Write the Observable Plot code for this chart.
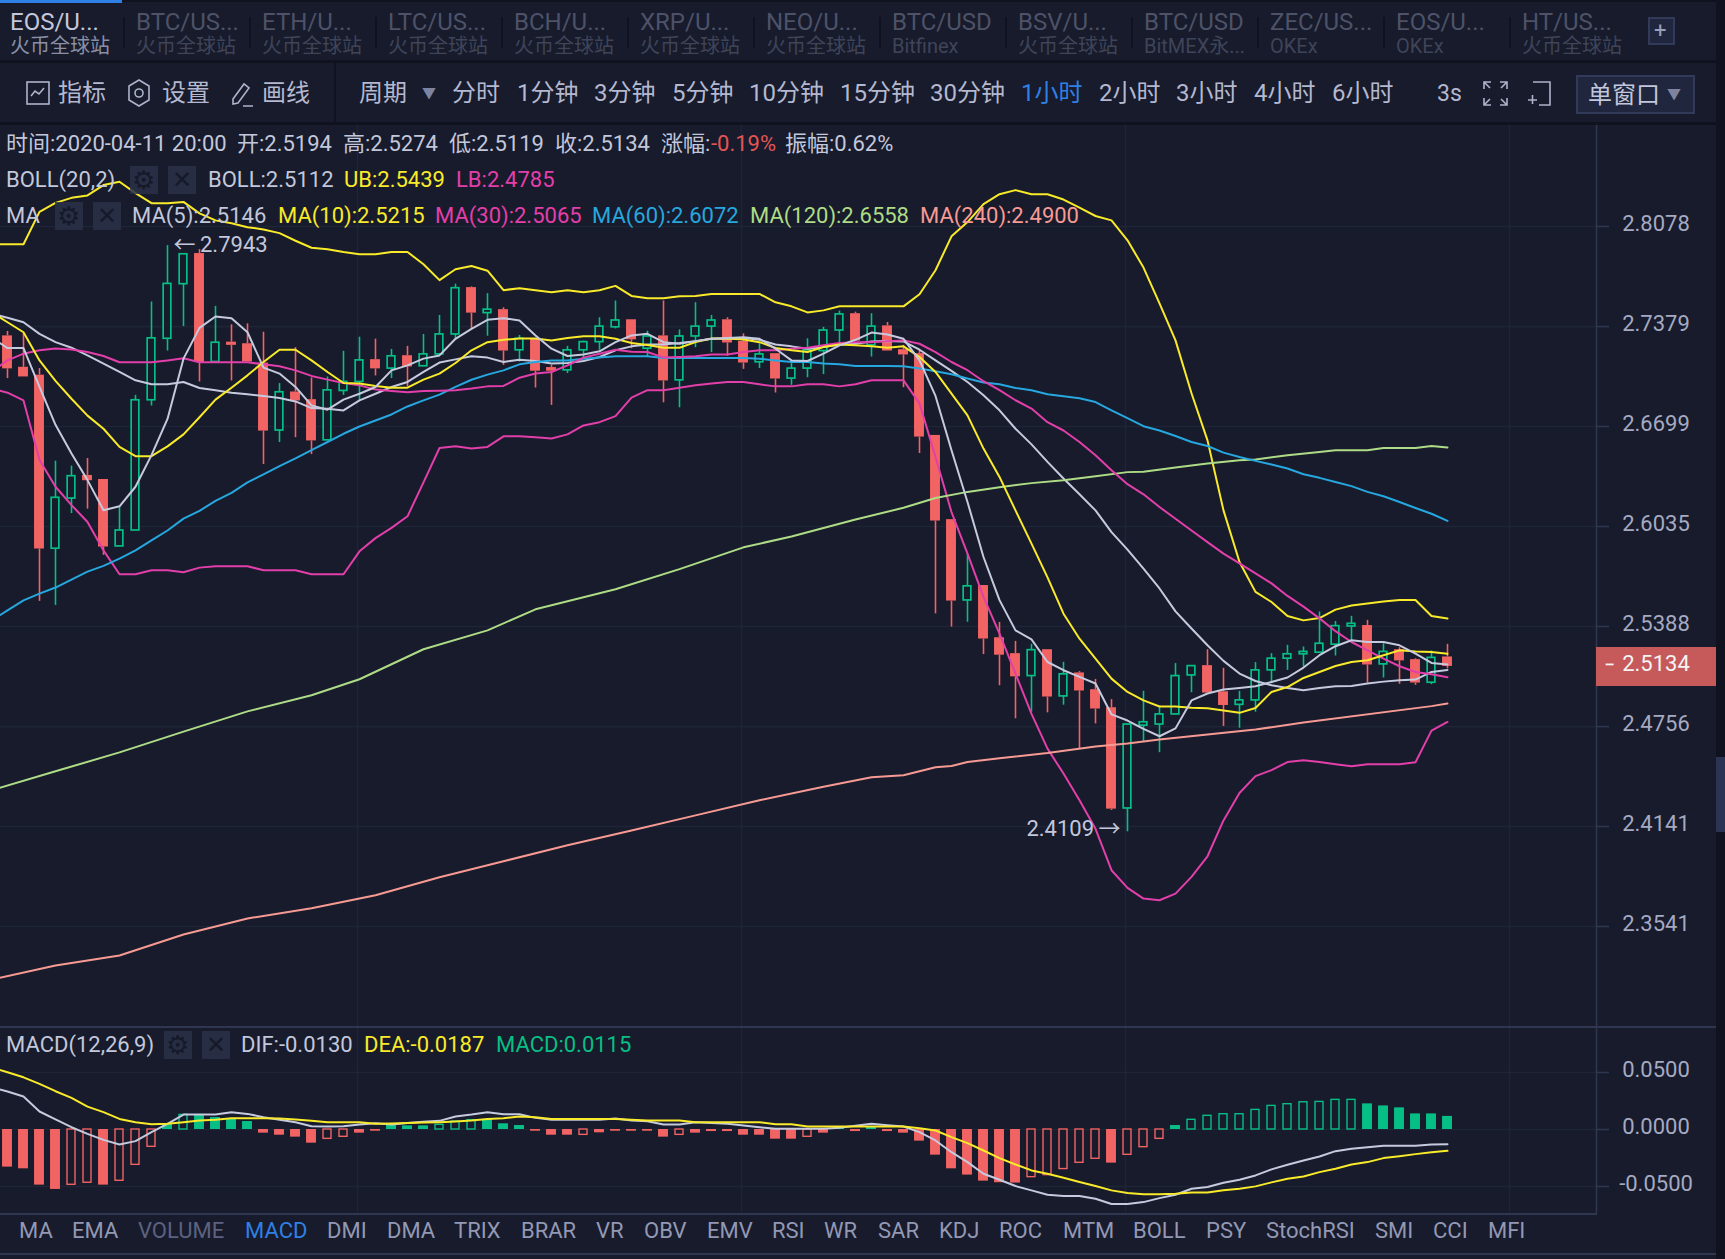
<!DOCTYPE html>
<html>
<head>
<meta charset="utf-8">
<script src="https://cdn.jsdelivr.net/npm/d3@7"></script>
<script src="https://cdn.jsdelivr.net/npm/@observablehq/plot@0.6"></script>
<style>
  html, body { margin: 0; padding: 0; background: #171b2b; overflow: hidden; }
  #page { position: relative; width: 1725px; height: 1259px; overflow: hidden; background: #171b2b;
          font-family: Roboto, "Noto Sans CJK SC", sans-serif; }
  .pane { position: absolute; left: 0; }
  .lbl { position: absolute; white-space: nowrap; transform: translateY(-50%); line-height: 1; }
  .bar { position: absolute; }
</style>
</head>
<body>
<div id="page"></div>
<script>
// ---- candles, index 0..90, one per hour
const opens = [
  2.7315,2.7100,2.7046,2.5890,2.6219,2.6372,2.6345,2.5905,2.6009,2.6876,
  2.7295,2.7673,2.7887,2.7136,2.7272,2.7261,2.7129,2.6672,2.6932,2.6880,
  2.6606,2.6939,2.7000,2.7152,2.7091,2.7179,2.7107,2.7188,2.7325,2.7649,
  2.7472,2.7496,2.7216,2.7295,2.7098,2.7079,2.7216,2.7272,2.7374,2.7426,
  2.7227,2.7315,2.7011,2.7311,2.7379,2.7426,2.7277,2.7134,2.7193,2.7023,
  2.7091,2.7211,2.7352,2.7468,2.7250,2.7384,2.7220,2.7193,2.6639,2.6080,
  2.5555,2.5651,2.5316,2.5215,2.5073,2.5240,2.4945,2.5093,2.4987,2.4874,
  2.4251,2.4762,2.4769,2.4832,2.5077,2.5139,2.4974,2.4892,2.4920,2.5109,
  2.5183,2.5211,2.5221,2.5272,2.5388,2.5394,2.5147,2.5240,2.5177,2.5031,
  2.5194];
const highs = [
  2.7345,2.7329,2.7091,2.6467,2.6434,2.6485,2.6345,2.6164,2.6909,2.7549,
  2.7943,2.7882,2.7915,2.7519,2.7391,2.7398,2.7340,2.6989,2.7234,2.7027,
  2.7034,2.7209,2.7306,2.7293,2.7222,2.7243,2.7325,2.7456,2.7673,2.7654,
  2.7607,2.7509,2.7318,2.7295,2.7113,2.7243,2.7279,2.7440,2.7556,2.7426,
  2.7347,2.7556,2.7356,2.7544,2.7456,2.7440,2.7329,2.7261,2.7193,2.7125,
  2.7295,2.7374,2.7486,2.7479,2.7468,2.7407,2.7250,2.7220,2.6639,2.6080,
  2.5854,2.5651,2.5414,2.5293,2.5274,2.5240,2.5160,2.5101,2.5052,2.4925,
  2.4769,2.4977,2.4883,2.5152,2.5136,2.5240,2.5122,2.4977,2.5158,2.5215,
  2.5268,2.5257,2.5481,2.5420,2.5453,2.5427,2.5278,2.5253,2.5183,2.5232,
  2.5274];
const lows = [
  2.7023,2.7034,2.5549,2.5523,2.6120,2.6149,2.5847,2.5905,2.6009,2.6837,
  2.7211,2.7379,2.7000,2.7136,2.7007,2.7136,2.6445,2.6591,2.6624,2.6511,
  2.6606,2.6909,2.6875,2.7041,2.7023,2.6966,2.7107,2.7182,2.7295,2.7356,
  2.7313,2.7113,2.7136,2.6959,2.6841,2.7057,2.7159,2.7216,2.7363,2.7227,
  2.7166,2.6859,2.6825,2.7234,2.7200,2.7175,2.7086,2.7091,2.6925,2.6977,
  2.7029,2.7050,2.7243,2.7279,2.7170,2.7211,2.6961,2.6518,2.5469,2.5384,
  2.5415,2.5209,2.5012,2.4805,2.4847,2.4842,2.4890,2.4619,2.4773,2.4239,
  2.4109,2.4664,2.4594,2.4832,2.4968,2.4966,2.4757,2.4746,2.4846,2.5025,
  2.5109,2.5131,2.5221,2.5200,2.5299,2.5029,2.5061,2.5021,2.5015,2.5019,
  2.5119];
const closes = [
  2.7089,2.7034,2.5888,2.6224,2.6367,2.6337,2.5901,2.6009,2.6876,2.7298,
  2.7675,2.7882,2.7132,2.7268,2.7250,2.7136,2.6668,2.6930,2.6871,2.6602,
  2.6943,2.7000,2.7147,2.7089,2.7175,2.7102,2.7188,2.7325,2.7645,2.7472,
  2.7496,2.7211,2.7295,2.7073,2.7073,2.7216,2.7272,2.7379,2.7421,2.7288,
  2.7311,2.7007,2.7311,2.7379,2.7421,2.7266,2.7129,2.7188,2.7020,2.7091,
  2.7216,2.7352,2.7463,2.7279,2.7379,2.7211,2.7184,2.6628,2.6071,2.5551,
  2.5646,2.5308,2.5205,2.5068,2.5237,2.4941,2.5084,2.4979,2.4866,2.4247,
  2.4769,2.4783,2.4832,2.5073,2.5136,2.4966,2.4888,2.4920,2.5109,2.5183,
  2.5211,2.5226,2.5278,2.5390,2.5405,2.5143,2.5226,2.5169,2.5029,2.5188,
  2.5134];

// ---- overlay lines, index -1..90 (first value sits just off the left edge)
const ub = [2.7952,
  2.7952,2.7952,2.8181,2.8245,2.8281,2.8298,2.8372,2.8396,2.8315,2.8243,
  2.8243,2.8252,2.8171,2.8121,2.8100,2.8073,2.8057,2.8031,2.7977,2.7928,
  2.7917,2.7898,2.7882,2.7882,2.7898,2.7898,2.7812,2.7701,2.7777,2.7800,
  2.7767,2.7631,2.7645,2.7631,2.7617,2.7631,2.7617,2.7631,2.7661,2.7591,
  2.7575,2.7575,2.7589,2.7591,2.7605,2.7605,2.7605,2.7605,2.7547,2.7519,
  2.7477,2.7491,2.7519,2.7519,2.7519,2.7519,2.7519,2.7603,2.7770,2.8008,
  2.8109,2.8236,2.8307,2.8336,2.8307,2.8307,2.8269,2.8212,2.8152,2.8121,
  2.7980,2.7789,2.7540,2.7284,2.6923,2.6606,2.6141,2.5804,2.5610,2.5545,
  2.5455,2.5427,2.5442,2.5496,2.5522,2.5535,2.5548,2.5558,2.5558,2.5455,
  2.5439];
const boll = [2.7468,
  2.7440,2.7409,2.7329,2.7272,2.7234,2.7181,2.7125,2.7068,2.7011,2.6984,
  2.6984,2.7000,2.6959,2.6943,2.6927,2.6916,2.6905,2.6891,2.6868,2.6823,
  2.6818,2.6807,2.6875,2.6920,2.6966,2.7000,2.7068,2.7132,2.7154,2.7175,
  2.7166,2.7136,2.7152,2.7143,2.7125,2.7129,2.7143,2.7170,2.7216,2.7243,
  2.7256,2.7256,2.7266,2.7279,2.7295,2.7295,2.7300,2.7288,2.7256,2.7243,
  2.7227,2.7238,2.7256,2.7261,2.7277,2.7279,2.7277,2.7220,2.7147,2.7075,
  2.7000,2.6910,2.6808,2.6684,2.6579,2.6462,2.6352,2.6247,2.6141,2.5998,
  2.5884,2.5761,2.5632,2.5485,2.5375,2.5268,2.5169,2.5089,2.5042,2.5015,
  2.4998,2.4984,2.4998,2.5009,2.5011,2.5026,2.5038,2.5047,2.5051,2.5099,
  2.5112];
const lb = [2.6955,
  2.6927,2.6875,2.6475,2.6297,2.6176,2.6065,2.5879,2.5724,2.5724,2.5750,
  2.5750,2.5737,2.5767,2.5776,2.5776,2.5776,2.5750,2.5750,2.5750,2.5724,
  2.5724,2.5724,2.5873,2.5959,2.6026,2.6102,2.6326,2.6555,2.6566,2.6551,
  2.6562,2.6633,2.6633,2.6626,2.6619,2.6646,2.6706,2.6728,2.6769,2.6894,
  2.6944,2.6944,2.6961,2.6977,2.6989,2.7000,2.7000,2.6984,2.6970,2.6970,
  2.6984,2.6984,2.6970,2.6984,2.7011,2.7011,2.7011,2.6855,2.6495,2.6130,
  2.5858,2.5578,2.5342,2.5089,2.4836,2.4619,2.4465,2.4301,2.4127,2.3877,
  2.3771,2.3707,2.3697,2.3737,2.3837,2.3961,2.4178,2.4346,2.4449,2.4486,
  2.4536,2.4547,2.4536,2.4522,2.4510,2.4522,2.4522,2.4522,2.4535,2.4731,
  2.4785];
const ma5 = [2.7304,
  2.7231,2.7231,2.6966,2.6710,2.6518,2.6341,2.6142,2.6168,2.6297,2.6507,
  2.6750,2.7159,2.7370,2.7449,2.7437,2.7340,2.7098,2.7057,2.6966,2.6841,
  2.6812,2.6880,2.6920,2.6966,2.7079,2.7113,2.7159,2.7181,2.7295,2.7363,
  2.7426,2.7437,2.7421,2.7318,2.7227,2.7177,2.7188,2.7209,2.7272,2.7318,
  2.7329,2.7272,2.7261,2.7279,2.7295,2.7300,2.7306,2.7295,2.7227,2.7147,
  2.7143,2.7193,2.7250,2.7288,2.7338,2.7325,2.7295,2.7147,2.6905,2.6540,
  2.6196,2.5836,2.5557,2.5363,2.5306,2.5162,2.5110,2.5068,2.5026,2.4832,
  2.4794,2.4742,2.4696,2.4745,2.4920,2.4963,2.4988,2.4998,2.5009,2.5036,
  2.5064,2.5127,2.5205,2.5262,2.5300,2.5289,2.5289,2.5268,2.5215,2.5156,
  2.5146];
const ma10 = [2.7479,
  2.7409,2.7340,2.7147,2.7007,2.6886,2.6772,2.6684,2.6562,2.6500,2.6500,
  2.6566,2.6646,2.6761,2.6880,2.6961,2.7045,2.7136,2.7220,2.7220,2.7147,
  2.7068,2.6993,2.6989,2.6973,2.6961,2.6961,2.7016,2.7057,2.7129,2.7216,
  2.7272,2.7288,2.7297,2.7297,2.7284,2.7300,2.7313,2.7313,2.7295,2.7266,
  2.7252,2.7234,2.7234,2.7272,2.7297,2.7297,2.7290,2.7272,2.7232,2.7216,
  2.7204,2.7238,2.7256,2.7250,2.7243,2.7234,2.7243,2.7170,2.7068,2.6921,
  2.6774,2.6551,2.6362,2.6141,2.5923,2.5704,2.5470,2.5310,2.5184,2.5057,
  2.4973,2.4920,2.4882,2.4882,2.4874,2.4870,2.4857,2.4842,2.4872,2.4973,
  2.5004,2.5061,2.5099,2.5137,2.5162,2.5173,2.5205,2.5236,2.5228,2.5226,
  2.5215];
const ma30 = [2.7068,
  2.7147,2.7193,2.7216,2.7229,2.7222,2.7204,2.7177,2.7134,2.7134,2.7134,
  2.7147,2.7161,2.7134,2.7134,2.7134,2.7134,2.7120,2.7107,2.7079,2.7041,
  2.7016,2.6993,2.6977,2.6948,2.6939,2.6930,2.6939,2.6941,2.6943,2.6955,
  2.6970,2.6973,2.7029,2.7057,2.7068,2.7113,2.7166,2.7193,2.7220,2.7206,
  2.7204,2.7166,2.7170,2.7175,2.7188,2.7188,2.7204,2.7216,2.7216,2.7227,
  2.7234,2.7250,2.7266,2.7272,2.7272,2.7279,2.7284,2.7261,2.7204,2.7136,
  2.7080,2.7005,2.6944,2.6876,2.6820,2.6728,2.6672,2.6595,2.6506,2.6407,
  2.6314,2.6247,2.6163,2.6086,2.6009,2.5933,2.5858,2.5794,2.5730,2.5665,
  2.5584,2.5515,2.5440,2.5358,2.5289,2.5236,2.5184,2.5135,2.5099,2.5085,
  2.5065];
const ma60 = [2.5426,
  2.5491,2.5555,2.5599,2.5638,2.5689,2.5741,2.5778,2.5825,2.5879,2.5944,
  2.6009,2.6087,2.6138,2.6204,2.6257,2.6326,2.6379,2.6434,2.6485,2.6540,
  2.6595,2.6650,2.6699,2.6739,2.6780,2.6834,2.6875,2.6914,2.6966,2.7015,
  2.7050,2.7079,2.7120,2.7136,2.7147,2.7147,2.7159,2.7166,2.7175,2.7175,
  2.7175,2.7163,2.7163,2.7163,2.7163,2.7163,2.7163,2.7159,2.7147,2.7136,
  2.7136,2.7125,2.7120,2.7109,2.7109,2.7109,2.7107,2.7091,2.7073,2.7053,
  2.7023,2.6996,2.6985,2.6959,2.6944,2.6917,2.6903,2.6889,2.6864,2.6808,
  2.6755,2.6701,2.6672,2.6635,2.6595,2.6568,2.6524,2.6495,2.6469,2.6445,
  2.6418,2.6380,2.6356,2.6329,2.6301,2.6263,2.6234,2.6196,2.6157,2.6119,
  2.6072];
// the two long averages barely bend, so they are read at their kinks only
const ma120At = [-1,3,7,11,15,19,22,26,30,33,38,42,46,49,53,56,58,60,62,64,66,68,70,71,73,75,77,78,80,82,83,85,86,88,89,90];
const ma120 = [2.4362,2.4479,2.4596,2.4725,2.4851,2.4952,2.5053,2.5243,2.5363,2.5498,2.5627,2.5757,2.5899,2.5970,2.6081,2.6158,
  2.6223,2.6263,2.6294,2.6321,2.6340,2.6367,2.6394,2.6396,2.6425,2.6451,2.6473,2.6478,2.6506,2.6528,2.6540,2.6540,2.6555,2.6555,2.6568,2.6558];
const ma240At = [-1,3,7,11,15,19,23,27,31,35,39,43,47,51,54,56,58,59,60,62,65,68,70,72,75,78,81,89,90];
const ma240 = [2.3228,2.3311,2.3370,2.3494,2.3589,2.3649,2.3727,2.3835,2.3931,2.4027,2.4117,2.4209,2.4301,2.4384,2.4442,2.4455,
  2.4504,2.4512,2.4536,2.4559,2.4592,2.4633,2.4651,2.4676,2.4707,2.4738,2.4781,2.4884,2.4900];

// ---- MACD pane
const macdHist = [
  -.0330,-.0345,-.0488,-.0526,-.0485,-.0467,-.0488,-.0450,-.0310,-.0152,
  .0044,.0128,.0123,.0105,.0091,.0070,-.0032,-.0050,-.0067,-.0120,
  -.0082,-.0064,-.0032,-.0015,.0038,.0032,.0032,.0041,.0070,.0082,
  .0088,.0050,.0035,-.0015,-.0050,-.0050,-.0047,-.0029,-.0015,-.0015,
  -.0015,-.0067,-.0047,-.0032,-.0018,-.0018,-.0050,-.0050,-.0085,-.0085,
  -.0064,-.0032,.0018,-.0018,.0018,-.0018,-.0032,-.0102,-.0225,-.0345,
  -.0400,-.0453,-.0467,-.0470,-.0418,-.0400,-.0347,-.0292,-.0257,-.0295,
  -.0222,-.0155,-.0082,.0035,.0085,.0120,.0134,.0134,.0172,.0207,
  .0222,.0239,.0242,.0260,.0260,.0225,.0207,.0190,.0137,.0137,
  .0115];
const macdHollow = [4,5,7,8,9,11,20,21,27,28,29,36,42,50,64,65,66,67,68,70,71,72,74,75,76,77,78,79,80,81,82,83,84];
const dif = [.0371,
  .0333,.0289,.0158,.0088,.0020,-.0038,-.0091,-.0131,-.0102,-.0023,
  .0050,.0131,.0131,.0131,.0152,.0137,.0108,.0085,.0064,.0029,
  .0026,.0029,.0044,.0055,.0044,.0058,.0067,.0076,.0114,.0131,
  .0152,.0134,.0134,.0102,.0085,.0085,.0085,.0085,.0096,.0079,
  .0073,.0044,.0044,.0064,.0058,.0050,.0035,.0020,.0006,.0006,
  .0006,.0006,.0015,.0032,.0050,.0038,.0026,-.0023,-.0096,-.0199,
  -.0286,-.0388,-.0441,-.0496,-.0534,-.0572,-.0584,-.0584,-.0607,-.0654,
  -.0654,-.0637,-.0602,-.0572,-.0520,-.0505,-.0467,-.0441,-.0403,-.0350,
  -.0310,-.0272,-.0237,-.0190,-.0169,-.0155,-.0143,-.0143,-.0143,-.0131,
  -.0130];
const dea = [.0546,
  .0502,.0458,.0400,.0336,.0277,.0201,.0152,.0093,.0064,.0047,
  .0050,.0064,.0079,.0085,.0099,.0099,.0099,.0096,.0088,.0076,
  .0064,.0064,.0064,.0050,.0053,.0058,.0061,.0064,.0070,.0079,
  .0093,.0099,.0114,.0108,.0093,.0093,.0093,.0093,.0093,.0085,
  .0079,.0079,.0079,.0064,.0064,.0064,.0064,.0064,.0047,.0047,
  .0026,.0026,.0026,.0026,.0026,.0026,.0026,.0012,-.0009,-.0067,
  -.0120,-.0184,-.0251,-.0307,-.0359,-.0388,-.0423,-.0461,-.0496,-.0534,
  -.0558,-.0569,-.0569,-.0564,-.0552,-.0552,-.0534,-.0520,-.0499,-.0464,
  -.0432,-.0412,-.0374,-.0345,-.0307,-.0286,-.0251,-.0234,-.0216,-.0199,
  -.0187];

// ---- axes
const priceTicks = [2.8078,2.7379,2.6699,2.6035,2.5388,2.4756,2.4141,2.3541];
const macdTicks = [0.05,0,-0.05];
const gridAt = [21.875,45.875,69.875,93.875];

// ---- toolbar text
const tabs = ["EOS/U...","BTC/US...","ETH/U...","LTC/US...","BCH/U...","XRP/U...","NEO/U...","BTC/USD","BSV/U...","BTC/USD","ZEC/US...","EOS/U...","HT/US..."];
const tabVenues = ["火币全球站","火币全球站","火币全球站","火币全球站","火币全球站","火币全球站","火币全球站","Bitfinex","火币全球站","BitMEX永...","OKEx","OKEx","火币全球站"];
const periods = ["分时","1分钟","3分钟","5分钟","10分钟","15分钟","30分钟","1小时","2小时","3小时","4小时","6小时"];
const periodX = [452,517,594,672,749,840,930,1021,1099,1176,1254,1332];
const indicators = ["MA","EMA","VOLUME","MACD","DMI","DMA","TRIX","BRAR","VR","OBV","EMV","RSI","WR","SAR","KDJ","ROC","MTM","BOLL","PSY","StochRSI","SMI","CCI","MFI"];
const indicatorX = [19,72,138,245,327,387,454,521,596,644,707,772,824,878,939,999,1063,1133,1206,1266,1375,1433,1488];

// ---- colours
const BG = "#171b2b", GRID = "#1f2437", AXIS = "#2e3650", TEXT = "#c3c7dc", AXTEXT = "#a5aac2";
const UP = "#07bf85", DOWN = "#f26363", YELLOW = "#f9ea2a", MAGENTA = "#e23faa", BLUE = "#27a7df",
      LIME = "#aedc86", SALMON = "#f89a94", WHITE = "#c6cadf", ACCENT = "#2f80e4";
const FONT = 'Roboto, "Noto Sans CJK SC", sans-serif';

const page = document.getElementById("page");

function label(text, x, cy, color, size) {
  let d = document.createElement("div");
  d.className = "lbl";
  d.textContent = text;
  d.style.cssText = `left:${x}px;top:${cy}px;color:${color};font-size:${size || 22}px`;
  page.append(d);
  return d;
}
function box(x, y, w, h, color, extra) {
  let d = document.createElement("div");
  d.className = "bar";
  d.style.cssText = `left:${x}px;top:${y}px;width:${w}px;height:${h}px;background:${color};${extra || ""}`;
  page.append(d);
  return d;
}
function icon(x, y, w, h, inner) {
  let d = document.createElement("div");
  d.className = "bar";
  d.style.cssText = `left:${x}px;top:${y}px;width:${w}px;height:${h}px`;
  d.innerHTML = `<svg width="${w}" height="${h}" viewBox="0 0 ${w} ${h}" fill="none" stroke="#aeb3cb" stroke-width="1.6">${inner}</svg>`;
  page.append(d);
}
function toolButtons(x, cy) {
  // the little gear and close squares next to the indicator names
  box(x, cy - 14, 28, 28, "#2a3149", "opacity:.85");
  box(x + 38, cy - 14, 28, 28, "#2a3149", "opacity:.85");
  label("⚙", x + 2, cy, "#151929", 26);
  label("✕", x + 42, cy, "#151929", 24);
}

const xScale = { domain: [-0.4375, 99.3125], axis: null };
const AXIS_X = 99.3125;
const lineOf = (values, stroke) => Plot.lineY(values, { x: (d, i) => i - 1, y: d => d, stroke, strokeWidth: 2 });
const gridMarks = ticks => [
  Plot.ruleX(gridAt, { stroke: GRID, strokeWidth: 1.6 }),
  Plot.ruleY(ticks, { stroke: GRID, strokeWidth: 1.6 }),
  Plot.ruleX([AXIS_X], { stroke: AXIS, strokeWidth: 1.6 })
];
const axisMarks = ticks => [
  Plot.axisY(ticks, { anchor: "right", tickSize: 12, fill: "none", stroke: AXIS, strokeWidth: 1.6, label: null }),
  Plot.axisY(ticks, { anchor: "right", tickSize: 0, tickPadding: 59.5, textAnchor: "middle", tickFormat: d => d.toFixed(4), fill: AXTEXT, fontSize: 22, dy: -2.5, label: null })
];

function plotPrice() {
  let candles = opens.map((o, i) => ({ i, o, h: highs[i], l: lows[i], c: closes[i], up: closes[i] >= o }));
  let rising = candles.filter(d => d.up);
  let falling = candles.filter(d => !d.up);
  const last = closes[closes.length - 1];

  let chart = Plot.plot({
    width: 1716, height: 903,
    marginLeft: 0, marginRight: 120, marginTop: 0, marginBottom: 0,
    style: { background: "transparent", fontFamily: FONT },
    x: xScale,
    y: { type: "log", domain: [2.2950, 2.8808], label: null },
    marks: [
      ...gridMarks(priceTicks),
      ...axisMarks(priceTicks),
      // wicks stop at the body so a hollow candle stays hollow
      Plot.ruleX(candles, { x: "i", y1: "h", y2: d => Math.max(d.o, d.c), stroke: d => d.up ? UP : DOWN, strokeWidth: 1.6 }),
      Plot.ruleX(candles, { x: "i", y1: d => Math.min(d.o, d.c), y2: "l", stroke: d => d.up ? UP : DOWN, strokeWidth: 1.6 }),
      Plot.rect(falling, { x1: d => d.i - 0.31, x2: d => d.i + 0.31, y1: "o", y2: "c", fill: DOWN }),
      Plot.rect(rising, { x1: d => d.i - 0.24, x2: d => d.i + 0.24, y1: "o", y2: "c", fill: BG, stroke: UP, strokeWidth: 1.7 }),
      lineOf(ub, YELLOW), lineOf(lb, MAGENTA), lineOf(boll, WHITE),
      Plot.line(ma240, { x: (d, i) => ma240At[i], y: d => d, stroke: SALMON, strokeWidth: 2 }),
      Plot.line(ma120, { x: (d, i) => ma120At[i], y: d => d, stroke: LIME, strokeWidth: 2 }),
      lineOf(ma60, BLUE), lineOf(ma30, MAGENTA), lineOf(ma10, YELLOW), lineOf(ma5, WHITE),
      // high and low flags
      Plot.text([2.7943], { x: [10], y: d => d, text: d => "←\u2009" + d.toFixed(4), textAnchor: "start", dx: 6, dy: -1, fill: TEXT, fontSize: 22 }),
      Plot.text([2.4109], { x: [70], y: d => d, text: d => d.toFixed(4) + "\u2009→", textAnchor: "end", dx: -7, dy: -3, fill: TEXT, fontSize: 22 }),
      // last price badge
      Plot.ruleY([last], { x1: AXIS_X, x2: 106.8125, stroke: "#c65a5a", strokeWidth: 39 }),
      Plot.ruleY([last], { x1: AXIS_X + 0.6, x2: AXIS_X + 1.1, stroke: "#f4f4f6", strokeWidth: 1.8, dy: -2 }),
      Plot.text([last], { x: [AXIS_X], y: d => d, text: d => d.toFixed(4), textAnchor: "middle", dx: 59.5, dy: -2, fill: "#f4f4f6", fontSize: 22 })
    ]
  });
  chart.style.display = "block";
  let pane = document.createElement("div");
  pane.className = "pane";
  pane.style.top = "124px";
  pane.append(chart);
  page.append(pane);
}

function plotMacd() {
  let bars = macdHist.map((v, i) => ({ i, v, hollow: macdHollow.includes(i) }));
  let chart = Plot.plot({
    width: 1716, height: 186,
    marginLeft: 0, marginRight: 120, marginTop: 0, marginBottom: 0,
    style: { background: "transparent", fontFamily: FONT },
    x: xScale,
    y: { domain: [-0.0737, 0.0895], label: null },
    marks: [
      ...gridMarks(macdTicks),
      ...axisMarks(macdTicks),
      Plot.rect(bars.filter(d => !d.hollow), { x1: d => d.i - 0.31, x2: d => d.i + 0.31, y1: 0, y2: "v", fill: d => d.v >= 0 ? UP : DOWN }),
      Plot.rect(bars.filter(d => d.hollow), { x1: d => d.i - 0.25, x2: d => d.i + 0.25, y1: 0, y2: "v", fill: BG, stroke: d => d.v >= 0 ? UP : DOWN, strokeWidth: 1.4 }),
      lineOf(dif, WHITE), lineOf(dea, YELLOW)
    ]
  });
  chart.style.display = "block";
  let pane = document.createElement("div");
  pane.className = "pane";
  pane.style.top = "1027px";
  pane.append(chart);
  page.append(pane);
}

plotPrice();
plotMacd();

// ---- tab row
box(0, 0, 1725, 2, "#10131f");
box(0, 0, 122, 3, ACCENT);
tabs.forEach((t, i) => {
  let x = 10 + i * 126;
  label(t, x, 22, i === 0 ? "#c3c7dc" : "#4d5268", 24);
  label(tabVenues[i], x, 46, i === 0 ? "#8b8fa6" : "#3f4459", 20);
  if (i > 0) box(x - 13, 17, 2, 31, "#10131f");
});
box(1648, 17, 27, 28, "#20263d", "box-sizing:border-box;border:2px solid #323a5a");
label("+", 1654, 31, "#9a9fb8", 22);
box(0, 60, 1725, 3, "#10131f");
box(0, 122, 1725, 3, "#10131f");

// ---- toolbar row
icon(26, 81, 24, 24, '<rect x="1" y="1" width="22" height="22"/><path d="M5 15l4-5 4 3 5-6"/>');
label("指标", 58, 93, "#b4b8d0", 24);
icon(127, 79, 24, 28, '<path d="M12 1l10 6v14l-10 6-10-6V7z"/><circle cx="12" cy="14" r="4"/>');
label("设置", 162, 93, "#b4b8d0", 24);
icon(230, 81, 24, 26, '<path d="M3 18L14 3l5 4L8 22l-5 1zM13 25h10"/>');
label("画线", 262, 93, "#b4b8d0", 24);
box(334, 63, 2, 60, "#10131f");
label("周期", 359, 93, "#b4b8d0", 24);
label("▼", 422, 93, "#7e84a0", 14);
periods.forEach((t, i) => label(t, periodX[i], 93, t === "1小时" ? ACCENT : "#b4b8d0", 24));
label("3s", 1437, 93, "#b4b8d0", 23);
icon(1483, 81, 25, 25, '<path d="M1 8V1h7M24 8V1h-7M1 17v7h7M24 17v7h-7M1 1l6 6M24 1l-6 6M1 24l6-6M24 24l-6-6"/>');
icon(1527, 81, 25, 25, '<path d="M6 1h17v23H12M1 19h9M5.5 14v9"/>');
box(1576, 75, 119, 39, "#20263d", "box-sizing:border-box;border:2px solid #323a5a");
label("单窗口", 1588, 95, "#c3c7dc", 24);
label("▼", 1667, 94, "#7e84a0", 14);

// ---- readouts over the chart
label("时间:2020-04-11 20:00", 6, 144, TEXT);
label("开:2.5194", 237, 144, TEXT);
label("高:2.5274", 343, 144, TEXT);
label("低:2.5119", 449, 144, TEXT);
label("收:2.5134", 555, 144, TEXT);
label("涨幅:", 661, 144, TEXT);
label("-0.19%", 711, 144, "#e25555");
label("振幅:0.62%", 785, 144, TEXT);

toolButtons(130, 180);
label("BOLL(20,2)", 6, 180, TEXT);
label("BOLL:2.5112", 208, 180, TEXT);
label("UB:2.5439", 344, 180, YELLOW);
label("LB:2.4785", 456, 180, MAGENTA);

toolButtons(55, 216);
label("MA", 6, 216, TEXT);
label("MA(5):2.5146", 132, 216, TEXT);
label("MA(10):2.5215", 278, 216, YELLOW);
label("MA(30):2.5065", 435, 216, MAGENTA);
label("MA(60):2.6072", 592, 216, BLUE);
label("MA(120):2.6558", 750, 216, LIME);
label("MA(240):2.4900", 920, 216, SALMON);

box(0, 1026, 1716, 2, AXIS);
toolButtons(164, 1045);
label("MACD(12,26,9)", 6, 1045, TEXT);
label("DIF:-0.0130", 241, 1045, TEXT);
label("DEA:-0.0187", 364, 1045, YELLOW);
label("MACD:0.0115", 496, 1045, UP);

// ---- indicator row
box(0, 1213, 1597, 2, AXIS);
box(0, 1253, 1725, 2, AXIS);
indicators.forEach((t, i) => label(t, indicatorX[i], 1231, t === "MACD" ? ACCENT : t === "VOLUME" ? "#5c6280" : "#9398b4", 22));

// ---- right edge
box(1716, 0, 9, 1259, "#10131f");
box(1716, 757, 9, 75, "#2b3452");
</script>
</body>
</html>
